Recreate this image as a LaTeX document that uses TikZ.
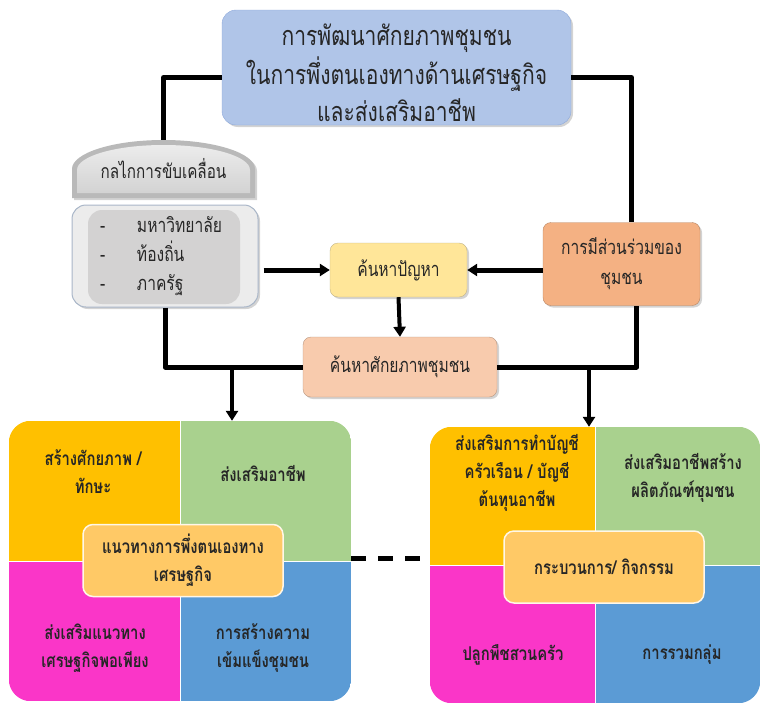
\documentclass[tikz,border=0pt]{standalone}
\usepackage{fontspec}
\usetikzlibrary{arrows.meta,shadows}
\newfontfamily\thaifont[Script=Thai,FakeStretch=0.78]{Loma}
\definecolor{goalblue}{HTML}{B0C5E8}
\definecolor{goalrim}{HTML}{8EA9DB}
\definecolor{listgray}{HTML}{ECECEC}
\definecolor{listrim}{HTML}{A9B6C8}
\definecolor{innergray}{HTML}{D3D2D2}
\definecolor{probyellow}{HTML}{FFE699}
\definecolor{partorange}{HTML}{F4B183}
\definecolor{potpeach}{HTML}{F8CBAD}
\definecolor{qorange}{HTML}{FFC000}
\definecolor{qgreen}{HTML}{A9D18E}
\definecolor{qmagenta}{HTML}{FA36C8}
\definecolor{qblue}{HTML}{5B9BD5}
\definecolor{hubfill}{HTML}{FFC966}
\definecolor{ink}{HTML}{262626}
\begin{document}
\begin{tikzpicture}[x=1pt,y=-1pt, line join=round,
    >={Triangle[length=10pt,width=12pt]},
    link/.style={line width=5pt,black},
    drop/.style={line width=4pt,black,->},
    shade3/.style={drop shadow={opacity=.35,shadow xshift=2pt,shadow yshift=-2pt}},
    goalbox/.style={rounded corners=14pt,fill=goalblue,draw=goalrim,shade3,
      minimum width=349pt,minimum height=115pt,text=ink,
      font=\thaifont\fontsize{27}{37}\selectfont},
    smallbox/.style={rounded corners=8pt,shade3,minimum height=54pt,align=center,text=ink,
      font=\thaifont\fontsize{20}{30}\selectfont},
    quad/.style={align=center,text=ink,font=\thaifont\bfseries\fontsize{19}{28}\selectfont},
    hub/.style={rounded corners=10pt,fill=hubfill,draw=white!85!hubfill,line width=1.5pt,
      minimum width=200pt,minimum height=72pt,align=center,text=ink,
      font=\thaifont\bfseries\fontsize{19}{28}\selectfont}]
\useasboundingbox (0,0) rectangle (762,704);

% top
\node[goalbox] (goal) at (396.5,67.5)
  {\raisebox{-15pt}[0pt][0pt]{\begin{tabular}{@{}c@{}}การพัฒนาศักยภาพชุมชน\\ในการพึ่งตนเองทางด้านเศรษฐกิจ\\และส่งเสริมอาชีพ\end{tabular}}};

% mechanism
\fill[gray!55,shade3] (72,198) -- (72,169) arc[start angle=180,end angle=0,x radius=91.5pt,y radius=29pt] -- (255,198) -- cycle;
\shade[top color=gray!15,bottom color=gray!35] (77,193) -- (77,170) arc[start angle=180,end angle=0,x radius=86.5pt,y radius=25pt] -- (250,193) -- cycle;
\node[minimum width=183pt,minimum height=57pt,text=ink,font=\thaifont\fontsize{19.5}{24}\selectfont]
  (mech) at (163.5,169) {\raisebox{-6pt}{กลไกการขับเคลื่อน}};
\node[rounded corners=14pt,fill=listgray,draw=listrim,line width=1pt,shade3,
  minimum width=186pt,minimum height=102pt,text width=150pt,align=left,text=ink,
  font=\thaifont\fontsize{20}{29}\selectfont,
  path picture={\fill[innergray] ([xshift=16pt,yshift=-5pt]path picture bounding box.north west)
    rectangle ([xshift=-18pt,yshift=3pt]path picture bounding box.south east);}]
  (actors) at (165,256)
  {\makebox[47pt][l]{\hspace{10pt}-}มหาวิทยาลัย\\
   \makebox[47pt][l]{\hspace{10pt}-}ท้องถิ่น\\
   \makebox[47pt][l]{\hspace{10pt}-}ภาครัฐ};

% middle row
\node[smallbox,fill=probyellow,draw=probyellow!70!black!80,minimum width=137pt] (prob) at (398.5,270) {ค้นหาปัญหา};
\node[smallbox,fill=partorange,draw=partorange!75!black,minimum width=157pt,minimum height=83pt] (part) at (621.5,264)
  {การมีส่วนร่วมของ\\ชุมชน};
\node[smallbox,fill=potpeach,draw=potpeach!75!black,minimum width=194pt,minimum height=60pt] (pot) at (400,367) {ค้นหาศักยภาพชุมชน};

% lower grids
\node[minimum width=342pt,minimum height=280pt] (gridL) at (180,561) {};
\node[minimum width=330pt,minimum height=276pt] (gridR) at (595,565) {};
\begin{scope}
\clip[rounded corners=22pt] (gridL.north west) rectangle (gridL.south east);
\fill[qorange] (gridL.north west) rectangle (gridL.center);
\fill[qgreen] (gridL.north east) rectangle (gridL.center);
\fill[qmagenta] (gridL.south west) rectangle (gridL.center);
\fill[qblue] (gridL.south east) rectangle (gridL.center);
\draw[white,line width=1pt] (gridL.north) -- (gridL.south) (gridL.west) -- (gridL.east);
\end{scope}
\begin{scope}
\clip[rounded corners=22pt] (gridR.north west) rectangle (gridR.south east);
\fill[qorange] (gridR.north west) rectangle (gridR.center);
\fill[qgreen] (gridR.north east) rectangle (gridR.center);
\fill[qmagenta] (gridR.south west) rectangle (gridR.center);
\fill[qblue] (gridR.south east) rectangle (gridR.center);
\draw[white,line width=1pt] (gridR.north) -- (gridR.south) (gridR.west) -- (gridR.east);
\end{scope}

\node[quad] (skill) at (93,472) {สร้างศักยภาพ /\\ทักษะ};
\node[quad] (career) at (263,473) {ส่งเสริมอาชีพ};
\node[quad] (suff) at (95,648) {ส่งเสริมแนวทาง\\เศรษฐกิจพอเพียง};
\node[quad] (strong) at (263,648) {การสร้างความ\\เข้มแข็งชุมชน};
\node[hub] (path) at (183,560.5) {แนวทางการพึ่งตนเองทาง\\เศรษฐกิจ};

\node[quad] (acct) at (517,473) {ส่งเสริมการทำบัญชี\\ครัวเรือน / บัญชี\\ต้นทุนอาชีพ};
\node[quad] (product) at (683,478) {ส่งเสริมอาชีพสร้าง\\ผลิตภัณฑ์ชุมชน};
\node[quad] (garden) at (513,655) {ปลูกพืชสวนครัว};
\node[quad] (group) at (682,655) {การรวมกลุ่ม};
\node[hub] (proc) at (604,567) {กระบวนการ/ กิจกรรม};

% connectors
\draw[link] ([yshift=-10pt]goal.west) -| (mech.north);
\draw[link] ([yshift=-10pt]goal.east) -| ([xshift=10pt]part.north);
\draw[link,->,shorten <=5pt] (actors.east |- prob.west) -- (prob.west);
\draw[link,->] (part.west |- prob.east) -- (prob.east);
\draw[drop] (prob.south) -- (pot.north);
\draw[link] (actors.south) |- (pot.west);
\draw[link] (pot.east) -| ([xshift=15pt]part.south);
\coordinate (dropL) at (232,367);
\coordinate (dropR) at (589,367);
\draw[drop] (dropL) -- (dropL |- gridL.north);
\draw[drop] (dropR) -- (dropR |- gridR.north);
\draw[link,dash pattern=on 15pt off 12pt] ([yshift=3pt]gridL.east) -- ([yshift=3pt]gridL.east -| gridR.west);
\end{tikzpicture}
\end{document}
